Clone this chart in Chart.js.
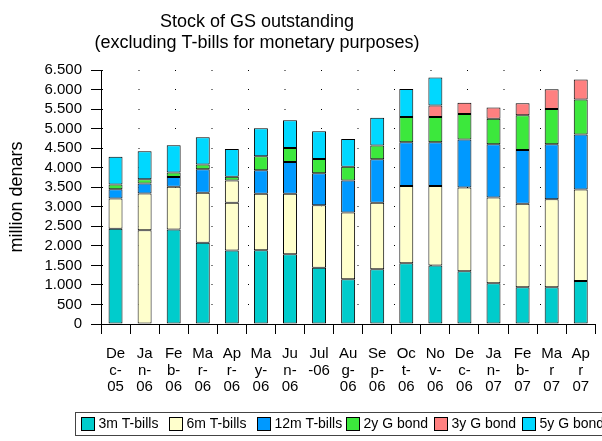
<!DOCTYPE html>
<html>
<head>
<meta charset="utf-8">
<script src="https://cdn.jsdelivr.net/npm/chart.js@4"></script>
<style>
  html, body { margin: 0; padding: 0; background: #fff; }
  #wrap { width: 602px; height: 441px; position: relative; }
</style>
</head>
<body>
<div id="wrap"><canvas id="gsChart" width="602" height="441"></canvas></div>
<script>
// months, split the way the axis wraps them
const months = [
  ["De", "c-", "05"], ["Ja", "n-", "06"], ["Fe", "b-", "06"], ["Ma", "r-", "06"],
  ["Ap", "r-", "06"], ["Ma", "y-", "06"], ["Ju", "n-", "06"], ["Jul", "-06"],
  ["Au", "g-", "06"], ["Se", "p-", "06"], ["Oc", "t-", "06"], ["No", "v-", "06"],
  ["De", "c-", "06"], ["Ja", "n-", "07"], ["Fe", "b-", "07"], ["Ma", "r", "07"],
  ["Ap", "r", "07"]
];

// million denars
const tbill3m  = [2440, 2400, 2420, 2080, 1880, 1885, 1785, 1440, 1145, 1400, 1555, 1495, 1350, 1040, 940, 940, 1100];
const tbill6m  = [770, 940, 1090, 1280, 1225, 1450, 1550, 1600, 1710, 1700, 1975, 2035, 2140, 2200, 2140, 2250, 2345];
const tbill12m = [240, 255, 255, 600, 565, 600, 810, 820, 820, 1115, 1120, 1120, 1230, 1360, 1375, 1410, 1405];
const bond2y   = [120, 110, 110, 120, 100, 360, 360, 360, 350, 350, 650, 650, 655, 650, 890, 905, 895];
const bond3y   = [null, null, null, null, null, null, null, null, null, null, null, 290, 290, 290, 305, 505, 510];
const bond5y   = [710, 715, 700, 700, 710, 715, 710, 710, 710, 715, 715, 715, null, null, null, null, null];

const yMax = 6500;
const yStep = 500;

const FONT = "'Liberation Sans', Arial, sans-serif";
const C = {
  teal: "#00cccc", cream: "#ffffcc", blue: "#0099ff",
  green: "#3ce83c", red: "#ff8080", cyan: "#00d8ff"
};

// a couple of bars in the original picture carry the cream fill
const col3m = tbill3m.map((v, i) => (i === 1 ? C.cream : C.teal));
const col12m = tbill12m.map((v, i) => (i === 4 ? C.cream : C.blue));

function ds(label, data, color, swatch) {
  return {
    label, data,
    backgroundColor: color,
    swatch: swatch || color,
    borderColor: "#000",
    borderWidth: 1,
    borderSkipped: false,
    barPercentage: 0.48,
    categoryPercentage: 1
  };
}

const titlePlugin = {
  id: "twoLineTitle",
  afterDraw(chart) {
    const ctx = chart.ctx;
    ctx.save();
    ctx.fillStyle = "#000";
    ctx.font = "18px " + FONT;
    ctx.textAlign = "center";
    ctx.textBaseline = "middle";
    ctx.fillText("Stock of GS outstanding", 257, 22);
    ctx.fillText("(excluding T-bills for monetary purposes)", 257, 43);
    ctx.restore();
  }
};

const legendPlugin = {
  id: "boxLegend",
  afterDraw(chart) {
    const ctx = chart.ctx;
    ctx.save();
    ctx.strokeStyle = "#444";
    ctx.lineWidth = 1;
    ctx.strokeRect(75.5, 412.5, 560, 23);
    ctx.font = "14px " + FONT;
    ctx.textBaseline = "middle";
    ctx.textAlign = "left";
    chart.data.datasets.forEach((d, i) => {
      const x = Math.round(80.7 + i * 88.3) + 0.5;
      ctx.fillStyle = d.swatch;
      ctx.fillRect(x, 417.5, 13, 13);
      ctx.strokeStyle = "#000";
      ctx.strokeRect(x, 417.5, 13, 13);
      ctx.fillStyle = "#000";
      ctx.fillText(d.label, x + 17, 424.5);
    });
    ctx.restore();
  }
};

new Chart(document.getElementById("gsChart"), {
  type: "bar",
  data: {
    labels: months,
    datasets: [
      ds("3m T-bills", tbill3m, col3m, C.teal),
      ds("6m T-bills", tbill6m, C.cream),
      ds("12m T-bills", tbill12m, col12m, C.blue),
      ds("2y G bond", bond2y, C.green),
      ds("3y G bond", bond3y, C.red),
      ds("5y G bond", bond5y, C.cyan)
    ]
  },
  options: {
    responsive: false,
    animation: false,
    devicePixelRatio: 1,
    layout: { padding: { top: 70, left: 0, right: 3, bottom: 46 } },
    plugins: {
      legend: { display: false },
      title: { display: false },
      tooltip: { enabled: false }
    },
    scales: {
      x: {
        stacked: true,
        offset: true,
        grid: { display: true, drawOnChartArea: false, offset: true, color: "#000", tickLength: 10 },
        border: { display: true, color: "#000" },
        ticks: {
          color: "#000", maxRotation: 0, autoSkip: false, padding: 12,
          font: { family: FONT, size: 15, lineHeight: 1.1 }
        },
        afterFit(scale) { scale.height = 71; }
      },
      y: {
        stacked: true,
        min: 0, max: yMax,
        grid: { color: "#000", tickLength: 10, tickColor: "#000" },
        border: { display: true, color: "#000", dash: [1, 35.5] },
        ticks: {
          stepSize: yStep, color: "#000", padding: 9,
          autoSkip: false, maxTicksLimit: 20,
          font: { family: FONT, size: 15 },
          callback: v => String(v).replace(/\B(?=(\d{3})+(?!\d))/g, ".")
        },
        title: {
          display: true, text: "million denars", color: "#000",
          font: { family: FONT, size: 18 }, padding: { top: 6, bottom: 0 }
        },
        afterFit(scale) { scale.width = 101; }
      }
    }
  },
  plugins: [titlePlugin, legendPlugin]
});
</script>
</body>
</html>
